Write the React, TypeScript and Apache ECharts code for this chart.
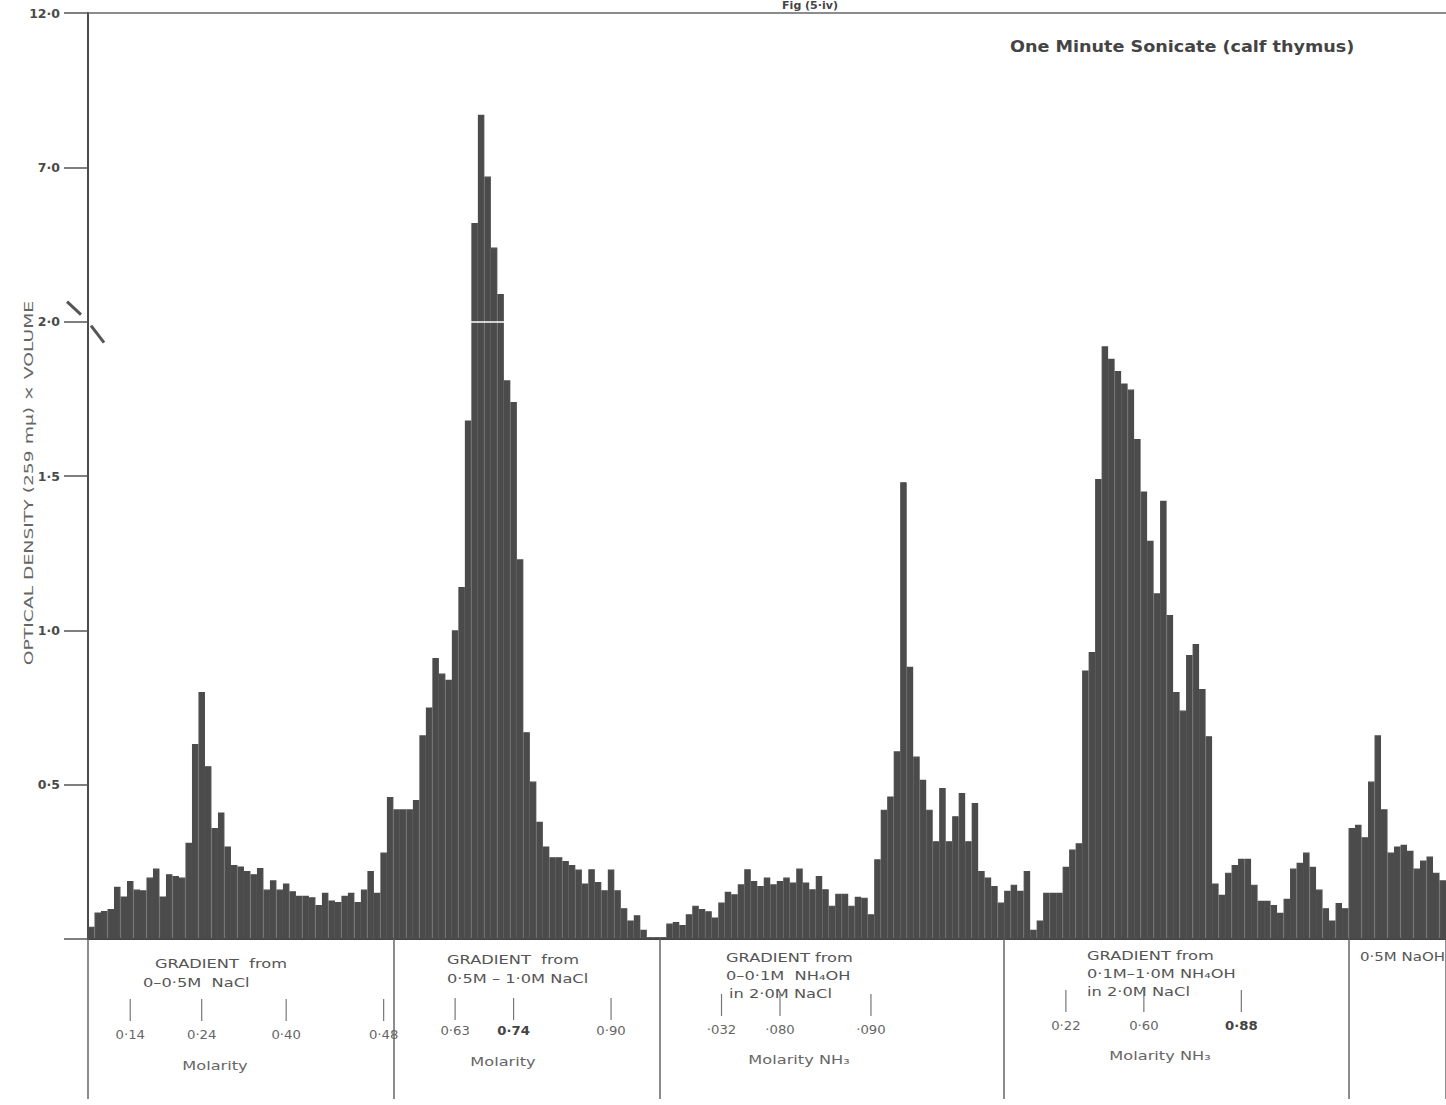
import React, { useEffect, useRef } from 'react';
import * as echarts from 'echarts';

// Optical density (259 mμ) × volume for each collected fraction, grouped by elution stage
const naclLowGradient = [
  0.04, 0.086, 0.091, 0.097, 0.169, 0.138, 0.188, 0.16, 0.158, 0.199, 0.228, 0.138,
  0.21, 0.204, 0.199, 0.312, 0.632, 0.8, 0.56, 0.36, 0.41, 0.3, 0.24, 0.235, 0.22,
  0.21, 0.23, 0.16, 0.19, 0.16, 0.18, 0.155, 0.14, 0.14, 0.135, 0.11, 0.15, 0.125,
  0.12, 0.14, 0.15, 0.12, 0.16, 0.22, 0.15, 0.28, 0.46,
];
const naclHighGradient = [
  0.42, 0.42, 0.42, 0.45, 0.66, 0.75, 0.91, 0.86, 0.84, 1.0, 1.14, 1.68, 5.2, 8.7,
  6.7, 4.4, 2.9, 1.81, 1.74, 1.23, 0.67, 0.51, 0.38, 0.3, 0.265, 0.265, 0.253, 0.24,
  0.225, 0.18, 0.226, 0.185, 0.158, 0.225, 0.158, 0.1, 0.06, 0.077, 0.03, 0.006, 0.006,
];
const ammoniaLowGradient = [
  0.006, 0.05, 0.055, 0.045, 0.08, 0.108, 0.097, 0.09, 0.07, 0.118, 0.153, 0.145,
  0.177, 0.226, 0.188, 0.172, 0.199, 0.177, 0.188, 0.199, 0.183, 0.228, 0.183, 0.161,
  0.204, 0.161, 0.108, 0.147, 0.147, 0.108, 0.137, 0.134, 0.08, 0.258, 0.419, 0.462,
  0.608, 1.48, 0.882, 0.591, 0.516, 0.419, 0.317, 0.489, 0.317, 0.398, 0.473, 0.317,
  0.441, 0.22, 0.199, 0.172, 0.118,
];
const ammoniaHighGradient = [
  0.156, 0.176, 0.156, 0.22, 0.03, 0.06, 0.15, 0.15, 0.15, 0.234, 0.29, 0.31, 0.87,
  0.93, 1.49, 1.92, 1.88, 1.84, 1.8, 1.78, 1.62, 1.45, 1.29, 1.12, 1.42, 1.05, 0.8,
  0.74, 0.92, 0.956, 0.81, 0.657, 0.18, 0.143, 0.215, 0.24, 0.26, 0.26, 0.176, 0.124,
  0.124, 0.11, 0.085, 0.13, 0.228, 0.247, 0.28, 0.234, 0.16, 0.1, 0.06, 0.117, 0.1,
];
const sodaWash = [
  0.36, 0.37, 0.33, 0.51, 0.66, 0.42, 0.28, 0.3, 0.305, 0.286, 0.228, 0.254, 0.267,
  0.215, 0.19,
];

const stages = [naclLowGradient, naclHighGradient, ammoniaLowGradient, ammoniaHighGradient, sodaWash];
const densities = stages.flat();
const fractions = densities.map((_, i) => String(i + 1));
// index of the first fraction of every stage
const stageStarts = stages.map((_, k) => stages.slice(0, k).reduce((n, s) => n + s.length, 0));

// Stage captions under the axis
const stageHeadings = [
  ['GRADIENT  from', '0–0·5M  NaCl'],
  ['GRADIENT  from', '0·5M – 1·0M NaCl'],
  ['GRADIENT from', '0–0·1M  NH₄OH', 'in 2·0M NaCl'],
  ['GRADIENT from', '0·1M–1·0M NH₄OH', 'in 2·0M NaCl'],
  ['0·5M NaOH'],
];
const molarityTitles = ['Molarity', 'Molarity', 'Molarity NH₃', 'Molarity NH₃'];
// molarity measured at given fractions (1-based fraction numbers)
const molarityMarks = [
  [{ fraction: '7', label: '0·14' }, { fraction: '18', label: '0·24' }, { fraction: '31', label: '0·40' }, { fraction: '46', label: '0·48' }],
  [{ fraction: '57', label: '0·63' }, { fraction: '66', label: '0·74' }, { fraction: '81', label: '0·90' }],
  [{ fraction: '98', label: '·032' }, { fraction: '107', label: '·080' }, { fraction: '121', label: '·090' }],
  [{ fraction: '151', label: '0·22' }, { fraction: '163', label: '0·60' }, { fraction: '178', label: '0·88' }],
];

// Value axis: linear up to 2·0, then compressed tenfold up to 12·0
const BREAK_AT = 2;
const SQUEEZE = 10;
const TOP_VALUE = 12;
const toAxis = (v: number) => (v <= BREAK_AT ? v : BREAK_AT + (v - BREAK_AT) / SQUEEZE);
const fromAxis = (a: number) => (a <= BREAK_AT ? a : BREAK_AT + (a - BREAK_AT) * SQUEEZE);
const fmt = (v: number) => v.toFixed(1).replace('.', '·');

const FONT = '"DejaVu Sans", "Liberation Sans", sans-serif';
const INK = '#4b4b4b';
const TEXT = '#555';

// Caption layout (left edge / tops per line)
const headingLayout = [
  { x: [155, 143], y: [964, 983] },
  { x: [447, 447], y: [960, 979] },
  { x: [726, 726, 729], y: [958, 976, 994] },
  { x: [1087, 1087, 1087], y: [956, 974, 992] },
  { x: [1360], y: [956] },
];
const markTickTop = [999, 998, 994, 990];
const markLabelY = [1035, 1031, 1030, 1026];
const titleLayout = [
  { x: 215, y: 1066 },
  { x: 503, y: 1062 },
  { x: 799, y: 1060 },
  { x: 1160, y: 1056 },
];

export default function App() {
  const ref = useRef<HTMLDivElement>(null);

  useEffect(() => {
    if (!ref.current) return;
    const chart = echarts.init(ref.current, undefined, { renderer: 'svg' });

    const above = densities.map((v, i) => (v > BREAK_AT ? i : -1)).filter((i) => i >= 0);
    const firstAbove = Math.max(0, above[0] - 1);
    const lastAbove = Math.min(densities.length - 1, above[above.length - 1] + 1);

    chart.setOption({
      animation: false,
      backgroundColor: '#fff',
      grid: { left: 88, right: 0, top: 13, bottom: 166 },
      xAxis: [
        {
          type: 'category',
          data: fractions,
          position: 'bottom',
          axisLine: { show: true, lineStyle: { color: '#444', width: 2 } },
          axisTick: {
            show: true,
            interval: (i: number) => stageStarts.includes(i),
            length: 160,
            lineStyle: { color: '#666', width: 1.5 },
          },
          axisLabel: { show: false },
          splitLine: { show: false },
        },
        {
          type: 'category',
          data: fractions,
          position: 'top',
          axisLine: { show: true, lineStyle: { color: '#666', width: 1.5 } },
          axisTick: { show: false },
          axisLabel: { show: false },
          splitLine: { show: false },
        },
      ],
      yAxis: {
        type: 'value',
        min: 0,
        max: toAxis(TOP_VALUE),
        interval: 0.5,
        axisLine: { show: true, lineStyle: { color: '#4a4a4a', width: 2 } },
        axisTick: { show: true, length: 24, lineStyle: { color: '#555', width: 1.5 } },
        axisLabel: {
          formatter: (a: number) => (a === 0 ? '' : fmt(fromAxis(a))),
          margin: 28,
          color: '#4a4a4a',
          fontSize: 12.5,
          fontWeight: 'bold',
          fontFamily: FONT,
        },
        splitLine: { show: false },
      },
      series: [
        {
          type: 'bar',
          data: densities.map(toAxis),
          barCategoryGap: '0%',
          barGap: '0%',
          itemStyle: { color: INK, borderColor: INK, borderWidth: 1.2 },
          markLine: {
            silent: true,
            symbol: 'none',
            label: { show: false },
            lineStyle: { color: '#fff', width: 1.5, type: 'solid' },
            data: [[{ coord: [fractions[firstAbove], BREAK_AT] }, { coord: [fractions[lastAbove], BREAK_AT] }]],
          },
        },
      ],
    });

    const px = (f: string) => chart.convertToPixel({ xAxisIndex: 0 }, f) as number;
    const py = (v: number) => chart.convertToPixel({ yAxisIndex: 0 }, toAxis(v)) as number;
    const step = px(fractions[1]) - px(fractions[0]);
    const axisX = px(fractions[0]) - step / 2;
    const breakY = py(BREAK_AT);

    const graphic: any[] = [];

    // axis title
    graphic.push({
      type: 'text',
      x: 29,
      y: 483,
      rotation: Math.PI / 2,
      scaleX: 1.5,
      style: {
        text: 'OPTICAL DENSITY (259 mμ) × VOLUME',
        fontSize: 12.5,
        fontFamily: FONT,
        fill: '#666',
        align: 'center',
        verticalAlign: 'middle',
      },
    });

    // heading and figure number
    graphic.push({
      type: 'text',
      x: 1010,
      y: 46,
      scaleX: 1.1,
      style: {
        text: 'One Minute Sonicate (calf thymus)',
        fontSize: 16,
        fontWeight: 'bold',
        fontFamily: FONT,
        fill: '#444',
        align: 'left',
        verticalAlign: 'middle',
      },
    });
    graphic.push({
      type: 'text',
      x: 810,
      y: 0,
      style: {
        text: 'Fig (5·iv)',
        fontSize: 11,
        fontWeight: 'bold',
        fontFamily: FONT,
        fill: '#444',
        align: 'center',
        verticalAlign: 'top',
      },
    });

    // scale-break marks across the value axis at 2·0
    graphic.push({
      type: 'line',
      shape: { x1: axisX - 21, y1: breakY - 20, x2: axisX - 7, y2: breakY - 7 },
      style: { stroke: '#555', lineWidth: 3 },
    });
    graphic.push({
      type: 'line',
      shape: { x1: axisX + 3, y1: breakY + 4, x2: axisX + 16, y2: breakY + 21 },
      style: { stroke: '#555', lineWidth: 3 },
    });

    // stage captions
    stageHeadings.forEach((lines, k) => {
      lines.forEach((line, j) => {
        graphic.push({
          type: 'text',
          x: headingLayout[k].x[j],
          y: headingLayout[k].y[j],
          scaleX: k === 4 ? 1.2 : 1.3,
          style: {
            text: line,
            fontSize: 12.5,
            fontFamily: FONT,
            fill: TEXT,
            align: 'left',
            verticalAlign: 'middle',
          },
        });
      });
    });

    // molarity marks
    molarityMarks.forEach((marks, k) => {
      marks.forEach((m) => {
        const x = px(m.fraction);
        graphic.push({
          type: 'line',
          shape: { x1: x, y1: markTickTop[k], x2: x, y2: markTickTop[k] + 22 },
          style: { stroke: '#777', lineWidth: 1.2 },
        });
        const strong = m.label === '0·88' || m.label === '0·74';
        graphic.push({
          type: 'text',
          x,
          y: markLabelY[k],
          scaleX: 1.15,
          style: {
            text: m.label,
            fontSize: 11.5,
            fontWeight: strong ? 'bold' : 'normal',
            fontFamily: FONT,
            fill: strong ? '#444' : '#666',
            align: 'center',
            verticalAlign: 'middle',
          },
        });
      });
      graphic.push({
        type: 'text',
        x: titleLayout[k].x,
        y: titleLayout[k].y,
        scaleX: 1.35,
        style: {
          text: molarityTitles[k],
          fontSize: 12,
          fontFamily: FONT,
          fill: '#666',
          align: 'center',
          verticalAlign: 'middle',
        },
      });
    });

    chart.setOption({ graphic });

    return () => chart.dispose();
  }, []);

  return (
    <div
      ref={ref}
      style={{ position: 'fixed', left: 0, top: 0, width: 1446, height: 1105, background: '#fff' }}
    />
  );
}
